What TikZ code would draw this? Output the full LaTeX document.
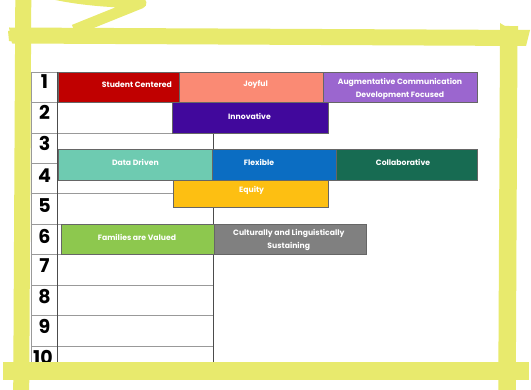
\documentclass[tikz,border=0pt]{standalone}
\usepackage{fontspec}
\setmainfont{Poppins}
\definecolor{hly}{HTML}{E8EA6D}
\definecolor{cSC}{HTML}{C00000}
\definecolor{cJoy}{HTML}{FA8A74}
\definecolor{cAug}{HTML}{9B66CF}
\definecolor{cInn}{HTML}{41089C}
\definecolor{cDD}{HTML}{6ECBB1}
\definecolor{cFlex}{HTML}{0B6DC2}
\definecolor{cCol}{HTML}{176B52}
\definecolor{cEq}{HTML}{FDBF12}
\definecolor{cFam}{HTML}{8DC84E}
\definecolor{cCul}{HTML}{808080}
\begin{document}
\begin{tikzpicture}[x=1pt,y=-1pt,
  gridl/.style={draw=black!40, line width=0.7pt},
  gridd/.style={draw=black!70, line width=0.8pt},
  barbox/.style={draw=black!60, line width=0.6pt, inner sep=0pt, outer sep=0pt, anchor=north west},
  lbl/.style={text=white, font=\fontsize{7.7}{12.8}\selectfont\bfseries, align=center, inner sep=0pt},
  num/.style={font=\fontsize{19}{19}\selectfont\bfseries, anchor=base, inner sep=0pt},
  hl/.style={draw=hly, line join=round}
]
\useasboundingbox (0,0) rectangle (531,390);
\fill[white] (0,0) rectangle (531,390);

% table grid
\foreach \k in {0,...,9} {
  \draw[gridl] (31.5,{72+30.45*\k}) -- (213.3,{72+30.45*\k});
}
\draw[gridl] (31.5,72) -- (31.5,368);
\draw[gridd] (57.8,72) -- (57.8,368);
\draw[gridd] (213.3,72) -- (213.3,368);

% row numbers
\node[num] (n1) at (44.5,89) {1};
\node[num] (n2) at (44.5,120) {2};
\node[num] (n3) at (44.5,150.3) {3};
\node[num] (n4) at (44.5,182.5) {4};
\node[num] (n5) at (44.5,213) {5};
\node[num] (n6) at (44.5,243.4) {6};
\node[num] (n7) at (44.5,273) {7};
\node[num] (n8) at (44.5,303.5) {8};
\node[num] (n9) at (44.5,334) {9};
\node[num] (n10) at (43,365) {10};

% bars
\node[barbox, fill=cSC, minimum width=121.2pt, minimum height=30.5pt] (bSC) at (57.8,72) {};
\node[barbox, fill=cJoy, minimum width=144.4pt, minimum height=30.5pt] (bJoy) at (179,72) {};
\node[barbox, fill=cAug, minimum width=154pt, minimum height=30.5pt] (bAug) at (323.4,72) {};
\node[barbox, fill=cInn, minimum width=155.1pt, minimum height=30.8pt] (bInn) at (172.7,102.5) {};
\node[barbox, fill=cDD, minimum width=154.6pt, minimum height=30.4pt] (bDD) at (58,149.6) {};
\node[barbox, fill=cFlex, minimum width=123.6pt, minimum height=30.4pt] (bFlex) at (212.6,149.6) {};
\node[barbox, fill=cCol, minimum width=141.2pt, minimum height=30.4pt] (bCol) at (336.2,149.6) {};
\node[barbox, fill=cEq, minimum width=155pt, minimum height=27.2pt] (bEq) at (173.4,180) {};
\node[barbox, fill=cFam, minimum width=153.3pt, minimum height=30.5pt] (bFam) at (61,224.1) {};
\node[barbox, fill=cCul, minimum width=152.4pt, minimum height=30.5pt] (bCul) at (214.3,224.1) {};

% labels
\node[lbl, anchor=east] (tSC) at (172,85) {Student Centered};
\node[lbl] (tJoy) at (255.6,85) {Joyful};
\node[lbl] (tAug) at (400,89) {Augmentative Communication\\Development Focused};
\node[lbl] (tInn) at (249.5,116) {Innovative};
\node[lbl] (tDD) at (135.4,162.5) {Data Driven};
\node[lbl] (tFlex) at (259,162.5) {Flexible};
\node[lbl] (tCol) at (403,162.5) {Collaborative};
\node[lbl] (tEq) at (251.6,190.5) {Equity};
\node[lbl] (tFam) at (137,237.5) {Families are Valued};
\node[lbl] (tCul) at (288.8,240.3) {Culturally and Linguistically\\Sustaining};

% highlighter frame
\draw[hl, line width=16pt] (23.3,-2) -- (21.2,392);
\draw[hl, line width=17.5pt] (508.8,26) -- (507,392);
\fill[hly] (9,27.5) -- (530,30) -- (526,46) -- (12,43.5) -- cycle;
\fill[hly] (8,31) -- (15,30) -- (15,42) -- (9,41) -- cycle;
\fill[hly] (500,23) -- (508,28) -- (518,26) -- (518,32) -- (500,32) -- cycle;
\draw[hl, line width=18.5pt] (3,371) -- (529,371);
\draw[hl, line width=11pt] (45,-8) .. controls (85,2) and (125,2) .. (141,3) -- (74,30);
\end{tikzpicture}
\end{document}
